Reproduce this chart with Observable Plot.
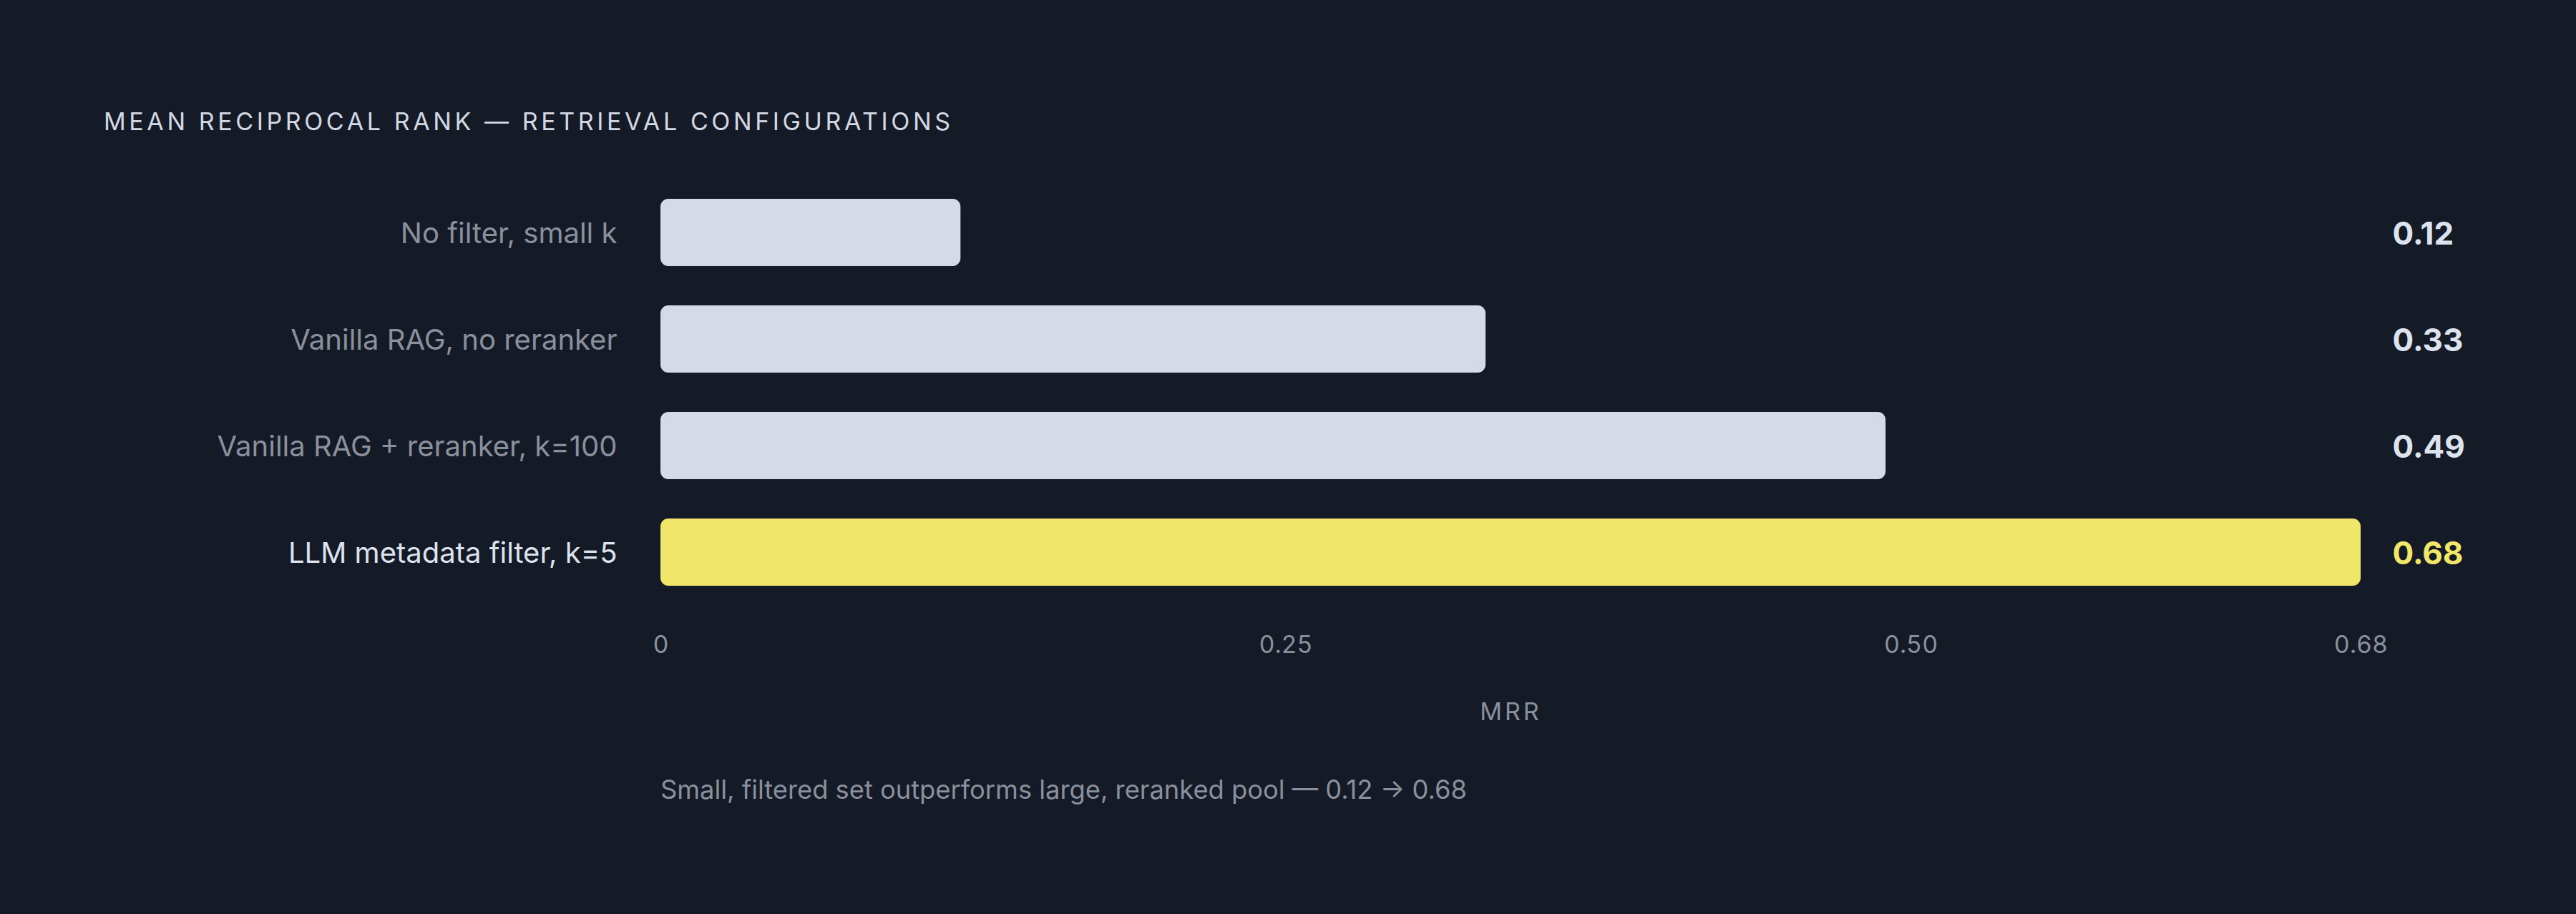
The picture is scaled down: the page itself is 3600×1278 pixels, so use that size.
<!DOCTYPE html>
<html>
<head>
<meta charset="utf-8">
<script src="https://cdn.jsdelivr.net/npm/d3@7"></script>
<script src="https://cdn.jsdelivr.net/npm/@observablehq/plot@0.6"></script>
<style>
  html, body { margin: 0; padding: 0; background: #151b26; }
  body { width: 3600px; height: 1278px; position: relative; overflow: hidden; font-family: Inter, "Noto Sans", sans-serif; }
  #title { position: absolute; left: 145px; top: 149px; font-size: 34px; letter-spacing: 4.6px; color: #d3d9e4; font-weight: 400; white-space: nowrap; }
  #caption { position: absolute; left: 923px; top: 1082px; font-size: 36.3px; color: #8a909c; white-space: nowrap; }
  #chart { position: absolute; left: 0; top: 0; }
</style>
</head>
<body>
<div id="title">MEAN RECIPROCAL RANK — RETRIEVAL CONFIGURATIONS</div>
<div id="chart"></div>
<div id="caption">Small, filtered set outperforms large, reranked pool — 0.12 → 0.68</div>
<script>
const categories = ["No filter, small k", "Vanilla RAG, no reranker", "Vanilla RAG + reranker, k=100", "LLM metadata filter, k=5"];
const mrr = [0.12, 0.33, 0.49, 0.68];
const highlight = [false, false, false, true];
const tickValues = [0, 0.25, 0.5, 0.68];
const tickLabels = ["0", "0.25", "0.50", "0.68"];

const data = categories.map((c, i) => ({category: c, mrr: mrr[i], hi: highlight[i]}));

const chart = Plot.plot({
  width: 3600,
  height: 1278,
  marginLeft: 923,
  marginRight: 301,
  marginTop: 221,
  marginBottom: 402,
  style: {background: "transparent", fontFamily: "Inter, 'Noto Sans', sans-serif"},
  x: {domain: [0, 0.68]},
  y: {domain: categories, padding: 0.367},
  marks: [
    Plot.barX(data, {
      x: "mrr", y: "category",
      fill: d => d.hi ? "#f0e76a" : "#d5dbe6",
      rx: 11
    }),
    Plot.text(data, {
      x: 0, y: "category", dx: -61, dy: 2, textAnchor: "end",
      text: "category", fontSize: 40,
      fill: d => d.hi ? "#dde3ee" : "#8a909c"
    }),
    Plot.text(data, {
      y: "category", frameAnchor: "right", dx: 44, dy: 2, textAnchor: "start",
      text: d => d.mrr.toFixed(2), fontSize: 44, fontWeight: 650,
      fill: d => d.hi ? "#f0e76a" : "#dde3ee"
    }),
    Plot.axisX({
      ticks: tickValues,
      tickFormat: (d, i) => tickLabels[i],
      tickSize: 0, tickPadding: 12, fontSize: 34,
      color: "#8a909c", fill: "#8a909c",
      label: "MRR", labelAnchor: "center", labelArrow: "none", labelOffset: 130
    }),
    Plot.axisY({ticks: [], label: null})
  ]
});
d3.select(chart).selectAll("g[aria-label='x-axis label'] text").style("letter-spacing", "4px");
document.getElementById("chart").appendChild(chart);
</script>
</body>
</html>
